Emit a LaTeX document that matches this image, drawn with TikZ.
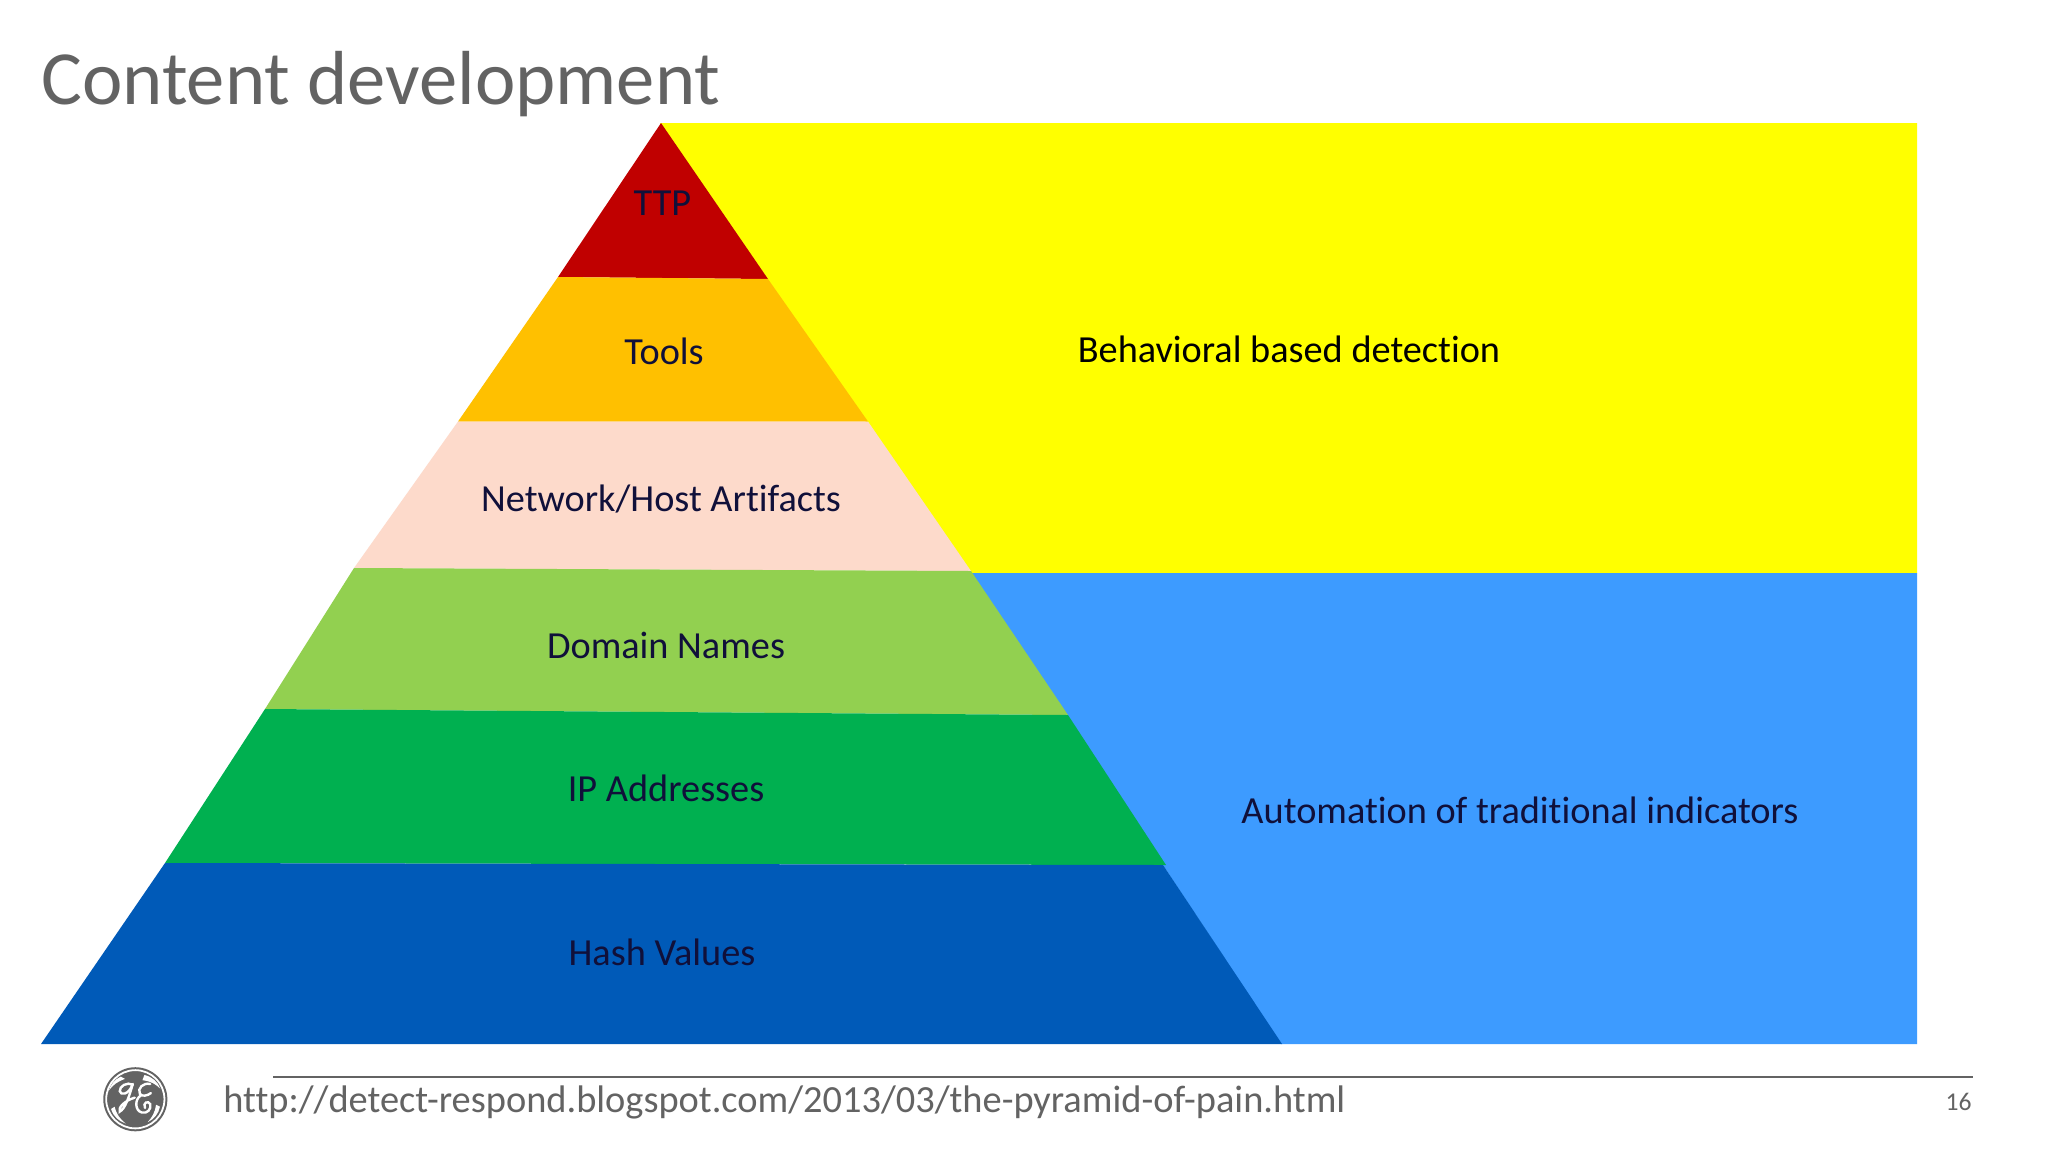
\documentclass[tikz,border=0pt]{standalone}
\usepackage{fontspec}
\setmainfont[Ligatures=NoCommon]{Carlito}
\definecolor{ink}{HTML}{10103A}
\definecolor{greytxt}{HTML}{636363}
\definecolor{cTTP}{HTML}{C00000}
\definecolor{cTools}{HTML}{FFC000}
\definecolor{cNet}{HTML}{FDDACB}
\definecolor{cDom}{HTML}{92D050}
\definecolor{cIP}{HTML}{00B050}
\definecolor{cHash}{HTML}{005AB8}
\definecolor{cBlue}{HTML}{3D9BFF}
\definecolor{cYel}{HTML}{FFFF00}
\tikzset{
  band/.style={fill=#1,draw=none},
  lab/.style={text=ink,font=\fontsize{19.15}{22}\selectfont,inner sep=0pt,anchor=center},
  logoline/.style={draw=white,line width=1.2pt,line cap=round,fill=none}
}
\begin{document}
\begin{tikzpicture}[x=0.5pt,y=-0.5pt]
\useasboundingbox (0,0) rectangle (2048,1152);
\fill[white] (0,0) rectangle (2048,1152);
% panels
\path[band=cYel] (660,123) -- (1917,123) -- (1917,573) -- (970,573) -- cycle;
\path[band=cBlue] (970,573) -- (1917,573) -- (1917,1044) -- (1281,1044) -- cycle;
% pyramid
\path[band=cTTP] (661,123) -- (768,279) -- (558,277) -- cycle;
\path[band=cTools] (558,277) -- (768,279) -- (868,421.5) -- (458,421.5) -- cycle;
\path[band=cNet] (458,421.5) -- (868,421.5) -- (971,571) -- (354,568) -- cycle;
\path[band=cDom] (354,568) -- (971,571) -- (1068,715) -- (265,709) -- cycle;
\path[band=cIP] (265,709) -- (1068,715) -- (1166,865) -- (165,863) -- cycle;
\path[band=cHash] (165,863) -- (1163,865) -- (1282,1044) -- (41,1044) -- cycle;
% labels
\node[lab] (ttp) at (662.5,203) {TTP};
\node[lab] (tools) at (664,351) {Tools};
\node[lab] (net) at (661,499) {Network/Host Artifacts};
\node[lab] (dom) at (666,645) {Domain Names};
\node[lab] (ip) at (666,788) {IP Addresses};
\node[lab] (hash) at (662,952) {Hash Values};
\node[lab,text=black] (beh) at (1289,349) {Behavioral based detection};
\node[lab] (auto) at (1520,810) {Automation of traditional indicators};
% title and footer
\node[anchor=base west,inner sep=0pt,text=greytxt,font=\fontsize{38.3}{44}\selectfont] (title) at (41,104) {Content development};
\node[anchor=base west,inner sep=0pt,text=greytxt,font=\fontsize{19.2}{22}\selectfont] (url) at (223,1112) {http://detect-respond.blogspot.com/2013/03/the-pyramid-of-pain.html};
\node[anchor=base east,inner sep=0pt,text=greytxt,font=\fontsize{12.8}{14}\selectfont] (page) at (1972,1110) {16};
\coordinate (ruleL) at (273,1077);
\coordinate (ruleR) at (1973,1077);
\draw[draw=greytxt,line width=1.1pt] (ruleL) -- (ruleR);
% logo
\begin{scope}[shift={(96.5,1068.5)},x=0.1618pt,y=-0.1618pt]
\fill[greytxt] (120,95) circle [radius=99];
\draw[white,line width=0.9pt] (120,95) circle [radius=90];
\fill[white] (75,25) .. controls (55,35) and (45,48) .. (38,68) .. controls (52,50) and (62,42) .. (88,32) -- cycle;
\fill[white] (148,20) .. controls (172,25) and (190,42) .. (197,62) .. controls (182,48) and (170,40) .. (142,36) -- cycle;
\fill[white] (196,118) .. controls (192,140) and (178,156) .. (158,166) .. controls (172,150) and (180,138) .. (184,112) -- cycle;
\fill[white] (45,125) .. controls (52,148) and (68,162) .. (90,170) .. controls (72,155) and (62,142) .. (56,118) -- cycle;
\draw[logoline] (112,50) .. controls (95,40) and (70,55) .. (72,70) .. controls (74,84) and (100,82) .. (112,48);
\draw[logoline] (112,48) .. controls (100,90) and (88,125) .. (72,133) .. controls (66,122) and (85,100) .. (118,90);
\draw[logoline] (166,48) .. controls (145,42) and (125,62) .. (134,78) .. controls (140,88) and (158,84) .. (168,76);
\draw[logoline] (136,84) .. controls (118,95) and (118,130) .. (140,136) .. controls (158,140) and (170,125) .. (166,110) .. controls (160,98) and (142,105) .. (150,122);
\end{scope}
\end{tikzpicture}
\end{document}
